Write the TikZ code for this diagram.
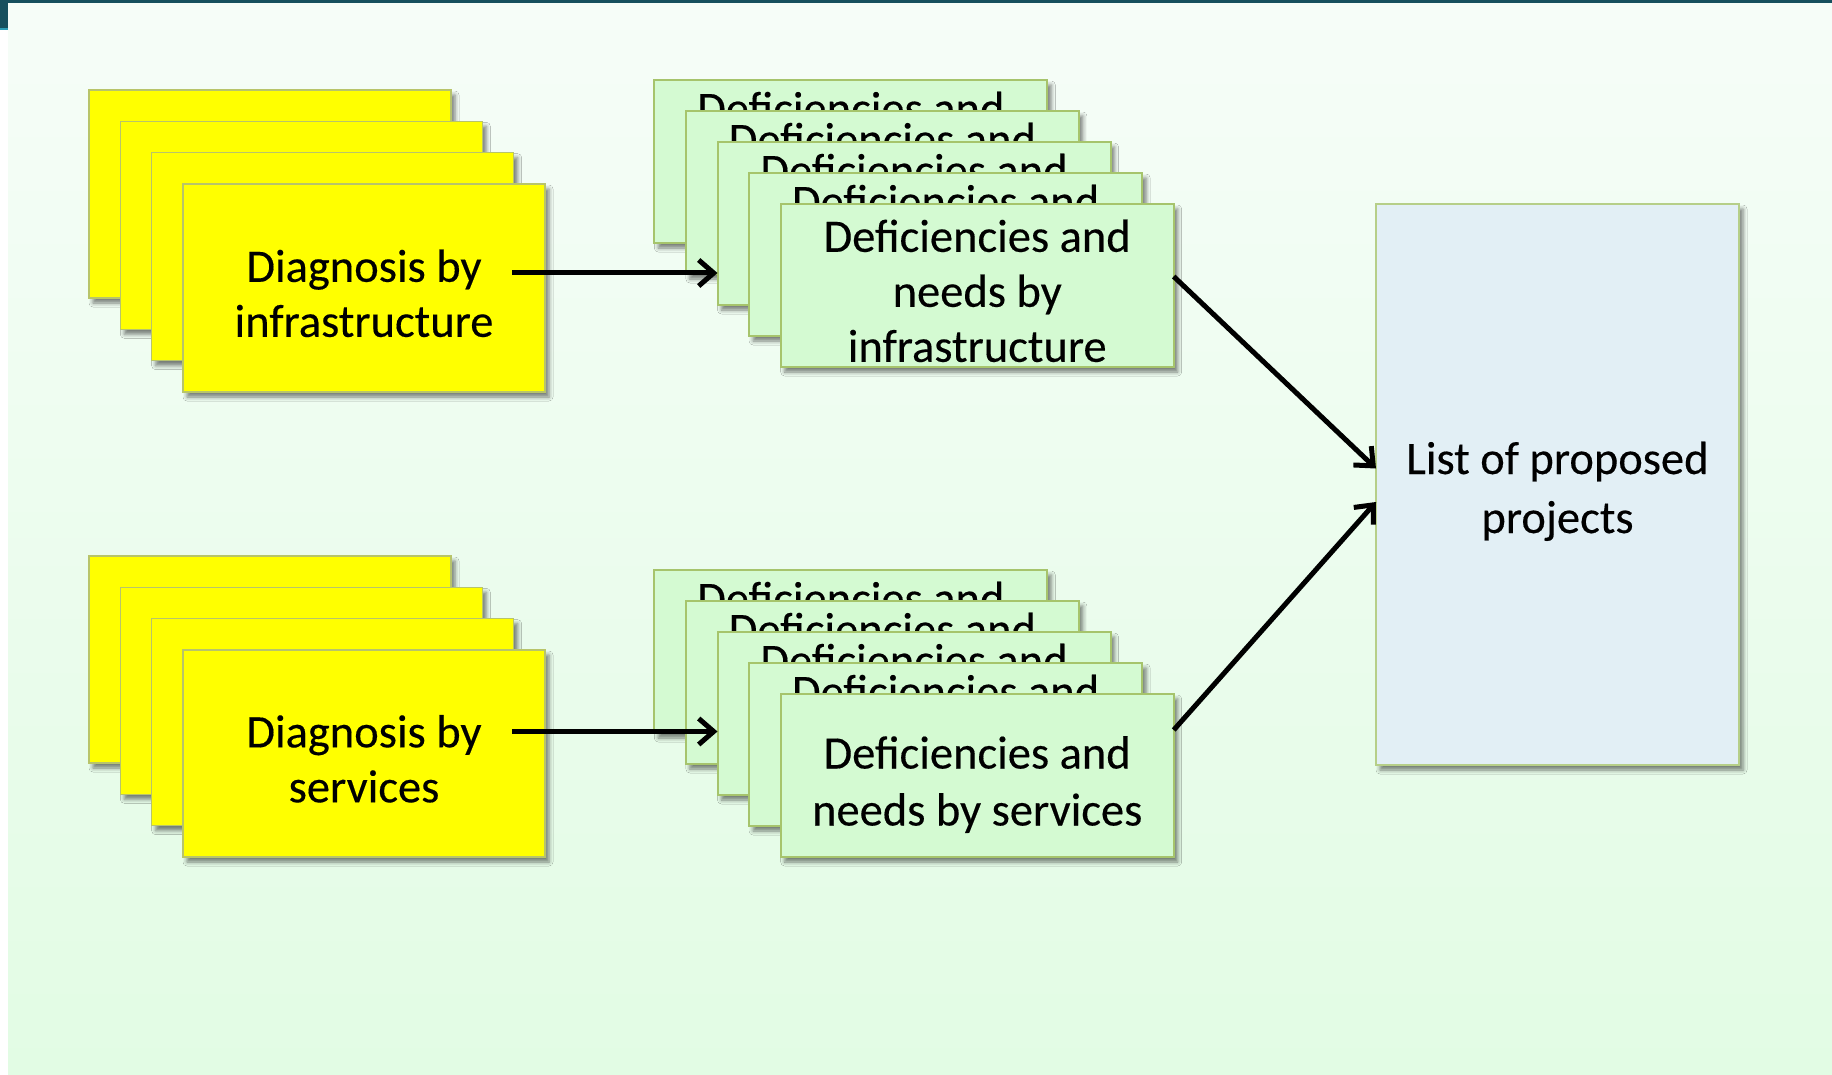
\documentclass[tikz,border=0pt]{standalone}
\usepackage{fontspec}
\setmainfont{Carlito}
\newfontfamily\cardface{Carlito}[FakeBold=0.3]
\usetikzlibrary{arrows.meta,shadows.blur}

\definecolor{bartop}{HTML}{17505E}
\definecolor{barlight}{HTML}{2E9DB6}
\definecolor{bgtop}{HTML}{F6FDF8}
\definecolor{bgbot}{HTML}{E2FCE4}
\definecolor{yfill}{HTML}{FFFF00}
\definecolor{yline}{HTML}{B8C46A}
\definecolor{gfill}{HTML}{D4FAD2}
\definecolor{gline}{HTML}{A6C46C}
\definecolor{bfill}{HTML}{E2EFF5}
\definecolor{bline}{HTML}{B6CF88}

\newcommand{\bodyfont}{\cardface\fontsize{46.5}{55}\selectfont}
% strut that pushes a centred text block a little lower in its box
\newcommand{\lowstrut}{\rule{0pt}{43pt}}

\tikzset{
  card/.style={anchor=north west, inner sep=0pt, outer sep=0pt, align=center,
    font=\bodyfont,
    blur shadow={shadow xshift=4pt, shadow yshift=-5pt,
                 shadow blur radius=4pt, shadow opacity=50}},
  diag/.style={card, fill=yfill, draw=yline, line width=1.5pt,
    minimum width=362pt, minimum height=208pt},
  need/.style={card, fill=gfill, draw=gline, line width=2pt,
    minimum width=393pt, minimum height=163pt},
  needback/.style={need,
    label={[anchor=base, yshift=-44pt, inner sep=0pt, font=\bodyfont]north:Deficiencies and}},
  result/.style={card, fill=bfill, draw=bline, line width=2pt,
    minimum width=363pt, minimum height=561pt, text depth=0pt},
  flow/.style={line width=5pt, -{Straight Barb[length=15pt, width=26pt]}}
}

\begin{document}
\begin{tikzpicture}[x=1pt, y=-1pt]
\useasboundingbox (0,0) rectangle (1832,1075);

% page background and title bar
\fill[white] (0,0) rectangle (1832,1075);
\shade[top color=bgtop, bottom color=bgbot] (8,3) rectangle (1832,1074);
\fill[bartop] (0,0) rectangle (1832,3);
\fill[bartop] (0,0) rectangle (8,28);
\fill[barlight] (0,28) rectangle (8,30);

% diagnosis stacks
\node[diag] (dA1) at (89,90) {};
\node[diag] (dA2) at (120.3,121.3) {};
\node[diag] (dA3) at (151.7,152.7) {};
\node[diag] (dA4) at (183,184) {\lowstrut Diagnosis by\\infrastructure};

\node[diag, minimum height=207pt] (dB1) at (89,556) {};
\node[diag, minimum height=207pt] (dB2) at (120.3,587.3) {};
\node[diag, minimum height=207pt] (dB3) at (151.7,618.7) {};
\node[diag, minimum height=207pt] (dB4) at (183,650) {\lowstrut Diagnosis by\\services};

% deficiency stacks
\node[needback] (nA1) at (654.3,80) {};
\node[needback] (nA2) at (685.9,111) {};
\node[needback] (nA3) at (717.5,142) {};
\node[needback] (nA4) at (749.1,173) {};
\node[need] (nA5) at (780.7,204) {\lowstrut Deficiencies and\\needs by\\infrastructure};

\node[needback] (nB1) at (654.3,570) {};
\node[needback] (nB2) at (685.9,601) {};
\node[needback] (nB3) at (717.5,632) {};
\node[needback] (nB4) at (749.1,663) {};
\node[need, font=\cardface\fontsize{46.5}{57}\selectfont, text depth=0pt] (nB5) at (780.7,694)
  {\lowstrut Deficiencies and\\needs by services};

% result
\node[result, font=\cardface\fontsize{46.5}{59}\selectfont] (res) at (1376,204)
  {\rule{0pt}{38pt}List of proposed\\projects};

% connectors
\coordinate (sA) at ([xshift=-33pt, yshift=15pt]dA4.east);
\draw[flow] (sA) -- (sA -| nA3.west);
\coordinate (sB) at ([xshift=-33pt, yshift=22pt]dB4.east);
\draw[flow] (sB) -- (sB -| nB3.west);
\draw[flow] ([yshift=9pt]nA5.east) -- ([yshift=16pt]res.west);
\draw[flow] ([yshift=45.5pt]nB5.east) -- ([yshift=-17.5pt]res.west);
\end{tikzpicture}
\end{document}
